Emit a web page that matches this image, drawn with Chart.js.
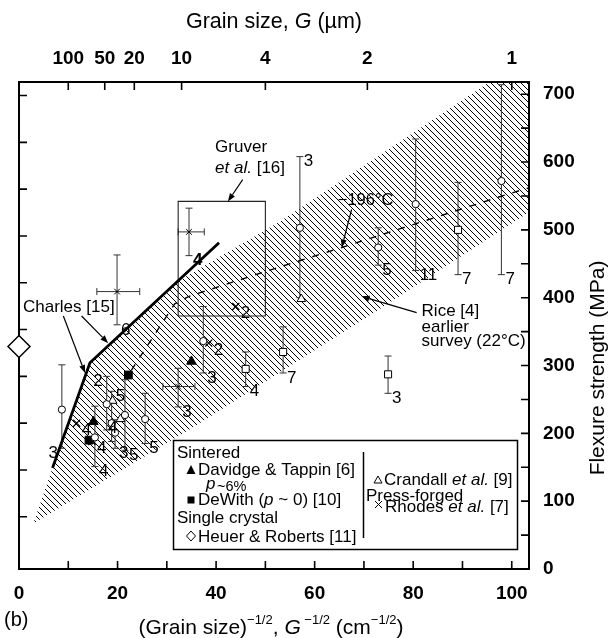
<!DOCTYPE html>
<html>
<head>
<meta charset="utf-8">
<title>Flexure strength vs grain size</title>
<script src="https://cdn.jsdelivr.net/npm/chart.js@4.4.1/dist/chart.umd.min.js"></script>
<style>
    body { margin: 0; background: #fff; }
    canvas { display: block; }
</style>
</head>
<body>
<canvas id="strengthChart" width="609" height="638"></canvas>
<script>
// Axis ranges and ticks
let xMax = 103.5;
let yMax = 718;
let bottomLabels = [0, 20, 40, 60, 80, 100];
let bottomMinor = [10, 30, 50, 70, 90];
let topTickPos = [10, 17.4, 23.4, 33, 50, 70.7, 100];
let topTickLabels = ['100', '50', '20', '10', '4', '2', '1'];
let rightLabels = [0, 100, 200, 300, 400, 500, 600, 700];
let rightMinor = [50, 150, 250, 350, 450, 550, 650];
let leftTicks = [77, 146, 215, 284, 353, 422, 491, 560, 629, 698];

// Rice [4] earlier survey (hatched band)
let bandUpperX = [2.9, 6.8, 14.4, 32, 52.9, 95.5, 103.5];
let bandUpperY = [67, 149, 304, 423, 512, 718, 757];
let bandLowerX = [2.9, 36, 72.5, 103.5];
let bandLowerY = [67, 212, 380, 526];

// Charles [15]
let charlesX = [6.8, 14.4, 40.6];
let charlesY = [149, 304, 481];

// -196 C trend
let coldX = [22.8, 31.6, 34.5, 48.9, 65.5, 98.9, 103.5];
let coldY = [293, 391, 402, 436, 474, 552, 562];

// Gruver et al. [16] range box
let gruverX = [32.3, 32.3, 50.0, 50.0, 32.3];
let gruverY = [373, 542, 542, 373, 373];

// Open circles with error bars
let circX  = [8.7, 15.4, 17.8, 18.8, 19.5, 21.5, 25.6, 37.4, 57.0, 72.9, 80.5, 97.9];
let circY  = [235, 194, 243, 215, 201, 227, 221, 336, 503, 474, 538, 572];
let circLo = [178, 151, 205, 188, 178, 175, 185, 289, 400, 448, 440, 434];
let circHi = [301, 240, 284, 262, 220, 279, 259, 387, 608, 503, 634, 714];
let circN  = ['3', '4', '2', '5', '3', '5', '5', '3', '3', '5', '11', '7'];

// Open squares with error bars
let sqX  = [46.0, 53.6, 74.9, 89.1];
let sqY  = [295, 320, 287, 500];
let sqLo = [269, 289, 259, 434];
let sqHi = [320, 357, 314, 570];
let sqN  = ['4', '7', '3', '7'];

// Crosses with x and y error bars
let crX   = [19.9, 32.3, 34.5];
let crY   = [409, 269, 497];
let crYLo = [360, 239, 462];
let crYHi = [463, 296, 532];
let crXLo = [15.8, 29.2, 32.3];
let crXHi = [24.5, 35.7, 37.6];
let crN   = ['6', '3', '4'];

// Legend series
let davidgeX = [15.1, 35.0];
let davidgeY = [217, 306];
let dewithX = [14.2, 22.2];
let dewithY = [190, 286];
let heuerX = [0];
let heuerY = [328];
let crandallX = [19.0, 57.3, 20.6];
let crandallY = [248, 398, 221];
let crandallN = ['', '', '4'];
let rhodesX = [11.7, 14.8, 44.0, 38.5];
let rhodesY = [215, 188, 387, 333];
let rhodesN = ['4', '4', '2', '2'];

// where each count label sits
let circNAt = ['lo-l', 'lo-r', 'hi-l', 'hi-r', 'lo-r', 'lo-r', 'lo-r', 'lo-r', 'hi-r', 'lo-r', 'lo-r', 'lo-r'];

const FAMILY = '"Liberation Sans", Arial, Helvetica, sans-serif';
function font(size, style) {
    return (style || '') + ' ' + size + 'px ' + FAMILY;
}

function pts(xs, ys) {
    return xs.map((x, i) => ({ x: x, y: ys[i] }));
}

// diagonal hatch pattern
function makeHatch(ctx) {
    let w = 6, h = 6;
    let c = document.createElement('canvas');
    c.width = w; c.height = h;
    let g = c.getContext('2d');
    g.strokeStyle = '#000';
    g.lineWidth = 1;
    g.beginPath();
    for (let k = -1; k <= 1; k++) {
        g.moveTo(k * w - w, -h);
        g.lineTo(k * w + 2 * w, 2 * h);
    }
    g.stroke();
    return ctx.createPattern(c, 'repeat');
}

// text with italic / superscript runs
function runFont(p, size) {
    let s = p.sup ? Math.round(size * 0.62) : size;
    return font(s, (p.i ? 'italic' : '') + (p.b ? ' bold' : ''));
}
function drawRich(ctx, parts, x, y, size, align) {
    let w = 0;
    parts.forEach(p => { ctx.font = runFont(p, size); w += ctx.measureText(p.t).width; });
    let cx = align === 'center' ? x - w / 2 : (align === 'right' ? x - w : x);
    ctx.textAlign = 'left';
    ctx.textBaseline = 'middle';
    parts.forEach(p => {
        ctx.font = runFont(p, size);
        ctx.fillText(p.t, cx, y + (p.sup ? -size * 0.38 : 0));
        cx += ctx.measureText(p.t).width;
    });
}

function arrow(ctx, x1, y1, x2, y2) {
    let a = Math.atan2(y2 - y1, x2 - x1);
    let len = 8, half = 3;
    ctx.beginPath();
    ctx.moveTo(x1, y1);
    ctx.lineTo(x2 - Math.cos(a) * len, y2 - Math.sin(a) * len);
    ctx.stroke();
    ctx.beginPath();
    ctx.moveTo(x2, y2);
    ctx.lineTo(x2 - Math.cos(a) * len - Math.sin(a) * half, y2 - Math.sin(a) * len + Math.cos(a) * half);
    ctx.lineTo(x2 - Math.cos(a) * len + Math.sin(a) * half, y2 - Math.sin(a) * len - Math.cos(a) * half);
    ctx.closePath();
    ctx.fill();
}

function drawErrorBars(chart) {
    let ctx = chart.ctx, xs = chart.scales.x, ys = chart.scales.y;
    ctx.save();
    ctx.strokeStyle = '#333';
    ctx.lineWidth = 1;
    let vbar = (x, lo, hi) => {
        let px = xs.getPixelForValue(x), p1 = ys.getPixelForValue(lo), p2 = ys.getPixelForValue(hi);
        ctx.beginPath();
        ctx.moveTo(px, p1); ctx.lineTo(px, p2);
        ctx.moveTo(px - 3.5, p1); ctx.lineTo(px + 3.5, p1);
        ctx.moveTo(px - 3.5, p2); ctx.lineTo(px + 3.5, p2);
        ctx.stroke();
    };
    let hbar = (y, lo, hi) => {
        let py = ys.getPixelForValue(y), p1 = xs.getPixelForValue(lo), p2 = xs.getPixelForValue(hi);
        ctx.beginPath();
        ctx.moveTo(p1, py); ctx.lineTo(p2, py);
        ctx.moveTo(p1, py - 3.5); ctx.lineTo(p1, py + 3.5);
        ctx.moveTo(p2, py - 3.5); ctx.lineTo(p2, py + 3.5);
        ctx.stroke();
    };
    circX.forEach((x, i) => vbar(x, circLo[i], circHi[i]));
    sqX.forEach((x, i) => vbar(x, sqLo[i], sqHi[i]));
    crX.forEach((x, i) => { vbar(x, crYLo[i], crYHi[i]); hbar(crY[i], crXLo[i], crXHi[i]); });
    ctx.restore();
}

function countLabel(ctx, text, px, py, pLo, pHi, at, bold) {
    if (!text) return;
    let x, y, align = 'left';
    if (at === 'lo-r') { x = px + 4; y = pLo + 5; }
    else if (at === 'lo-l') { x = px - 4; y = pLo + 5; align = 'right'; }
    else if (at === 'hi-r') { x = px + 4; y = pHi + 5; }
    else if (at === 'hi-l') { x = px - 4; y = pHi + 5; align = 'right'; }
    else if (at === 'pt-bl') { x = px - 3; y = py + 9; align = 'right'; }
    else { x = px + 5; y = py + 7; }
    ctx.font = font(17, bold ? 'bold' : '');
    ctx.textAlign = align;
    ctx.textBaseline = 'middle';
    ctx.fillText(text, x, y);
}

const figurePlugin = {
    id: 'figure',
    afterDatasetDraw(chart, args) {
        if (args.index === 0) drawErrorBars(chart);
    },
    afterDraw(chart) {
        let ctx = chart.ctx, a = chart.chartArea;
        let xs = chart.scales.x, ys = chart.scales.y;
        let X = v => xs.getPixelForValue(v), Y = v => ys.getPixelForValue(v);
        ctx.save();
        ctx.fillStyle = '#000';
        ctx.strokeStyle = '#000';

        // inward tick marks
        ctx.lineWidth = 1.6;
        ctx.beginPath();
        bottomLabels.concat(bottomMinor).forEach(v => { ctx.moveTo(X(v), a.bottom); ctx.lineTo(X(v), a.bottom - 8); });
        topTickPos.forEach(v => { ctx.moveTo(X(v), a.top); ctx.lineTo(X(v), a.top + 8); });
        rightLabels.concat(rightMinor).forEach(v => { ctx.moveTo(a.right, Y(v)); ctx.lineTo(a.right - 8, Y(v)); });
        leftTicks.forEach(v => { ctx.moveTo(a.left, Y(v)); ctx.lineTo(a.left + 8, Y(v)); });
        ctx.stroke();

        // axis titles
        drawRich(ctx, [{ t: 'Grain size, ' }, { t: 'G', i: true }, { t: ' (\u00b5m)' }], (a.left + a.right) / 2, 22, 21.5, 'center');
        drawRich(ctx, [{ t: '(Grain size)' }, { t: '\u22121/2', sup: true }, { t: ', ' }, { t: 'G', i: true },
            { t: ' \u22121/2', sup: true }, { t: ' (cm' }, { t: '\u22121/2', sup: true }, { t: ')' }], 271, 628, 21, 'center');
        drawRich(ctx, [{ t: '(b)' }], 4, 620, 20, 'left');
        ctx.save();
        ctx.translate(598, 368);
        ctx.rotate(-Math.PI / 2);
        drawRich(ctx, [{ t: 'Flexure strength (MPa)' }], 0, 0, 21, 'center');
        ctx.restore();

        // count labels
        circX.forEach((x, i) => countLabel(ctx, circN[i], X(x), Y(circY[i]), Y(circLo[i]), Y(circHi[i]), circNAt[i]));
        sqX.forEach((x, i) => countLabel(ctx, sqN[i], X(x), Y(sqY[i]), Y(sqLo[i]), Y(sqHi[i]), 'lo-r'));
        crX.forEach((x, i) => countLabel(ctx, crN[i], X(x), Y(crY[i]), Y(crYLo[i]), Y(crYHi[i]), 'lo-r', i === 2));
        rhodesX.forEach((x, i) => countLabel(ctx, rhodesN[i], X(x), Y(rhodesY[i]), 0, 0, 'pt-br'));
        crandallX.forEach((x, i) => countLabel(ctx, crandallN[i], X(x), Y(crandallY[i]), 0, 0, 'pt-bl'));

        // annotations
        ctx.lineWidth = 1.2;
        drawRich(ctx, [{ t: 'Gruver' }], X(39.8), Y(622), 17, 'left');
        drawRich(ctx, [{ t: 'et al.', i: true }, { t: ' [16]' }], X(39.8), Y(591), 17, 'left');
        arrow(ctx, X(45.4), Y(574), X(42.4), Y(542));
        drawRich(ctx, [{ t: 'Charles [15]' }], X(0.8), Y(386), 17, 'left');
        arrow(ctx, X(9.0), Y(373), X(13.4), Y(289));
        arrow(ctx, X(12.7), Y(373), X(18.1), Y(333));
        drawRich(ctx, [{ t: '\u2212196\u00b0C' }], X(64.7), Y(544), 16.5, 'left');
        arrow(ctx, X(67.5), Y(530), X(65.5), Y(474));
        drawRich(ctx, [{ t: 'Rice [4]' }], X(81.7), Y(380), 17, 'left');
        drawRich(ctx, [{ t: 'earlier' }], X(81.7), Y(356), 17, 'left');
        drawRich(ctx, [{ t: 'survey (22\u00b0C)' }], X(81.7), Y(336), 17, 'left');
        arrow(ctx, X(80.7), Y(378), X(69.5), Y(402));

        // legend box
        ctx.lineWidth = 1.5;
        ctx.strokeRect(173.5, 440.5, 344, 109);
        ctx.beginPath();
        ctx.moveTo(363.5, 452); ctx.lineTo(363.5, 538);
        ctx.stroke();
        drawRich(ctx, [{ t: 'Sintered' }], 177, 453, 17, 'left');
        ctx.beginPath();
        ctx.moveTo(191, 465); ctx.lineTo(195.5, 474); ctx.lineTo(186.5, 474); ctx.closePath(); ctx.fill();
        drawRich(ctx, [{ t: 'Davidge & Tappin [6]' }], 198, 470, 17, 'left');
        drawRich(ctx, [{ t: 'p', i: true }], 206, 484, 17, 'left');
        drawRich(ctx, [{ t: '~6%' }], 217, 487, 14.5, 'left');
        ctx.fillRect(187.5, 496.5, 7, 7);
        drawRich(ctx, [{ t: 'DeWith (' }, { t: 'p', i: true }, { t: ' ~ 0) [10]' }], 198, 500, 17, 'left');
        drawRich(ctx, [{ t: 'Single crystal' }], 177, 518, 17, 'left');
        ctx.lineWidth = 1;
        ctx.beginPath();
        ctx.moveTo(191, 531); ctx.lineTo(195.5, 536); ctx.lineTo(191, 541); ctx.lineTo(186.5, 536); ctx.closePath(); ctx.stroke();
        drawRich(ctx, [{ t: 'Heuer & Roberts [11]' }], 198, 537, 17, 'left');
        ctx.beginPath();
        ctx.moveTo(378, 476); ctx.lineTo(382, 483); ctx.lineTo(374, 483); ctx.closePath(); ctx.stroke();
        drawRich(ctx, [{ t: 'Crandall ' }, { t: 'et al.', i: true }, { t: ' [9]' }], 384, 480, 17, 'left');
        drawRich(ctx, [{ t: 'Press-forged' }], 366, 496, 17, 'left');
        ctx.beginPath();
        ctx.moveTo(375, 501); ctx.lineTo(382, 508); ctx.moveTo(382, 501); ctx.lineTo(375, 508);
        ctx.stroke();
        drawRich(ctx, [{ t: 'Rhodes ' }, { t: 'et al.', i: true }, { t: ' [7]' }], 385, 507, 17, 'left');

        ctx.restore();
    }
};

let canvas = document.getElementById('strengthChart');
let ctx = canvas.getContext('2d');
let hatch = makeHatch(ctx);

let axisFont = { family: FAMILY, size: 19, weight: 'bold' };

new Chart(ctx, {
    type: 'scatter',
    data: {
        datasets: [
            { label: 'Rice [4]', data: pts(bandUpperX, bandUpperY), showLine: true, fill: '+1', backgroundColor: hatch,
              borderColor: 'rgba(0,0,0,0)', borderWidth: 0, pointRadius: 0, order: 20 },
            { label: 'Rice lower', data: pts(bandLowerX, bandLowerY), showLine: true, fill: false,
              borderColor: 'rgba(0,0,0,0)', borderWidth: 0, pointRadius: 0, order: 19 },
            { label: 'Charles [15]', data: pts(charlesX, charlesY), showLine: true, borderColor: '#000', borderWidth: 2.8,
              pointRadius: 0, order: 10 },
            { label: '-196C', data: pts(coldX, coldY), showLine: true, borderColor: '#000', borderWidth: 1.4,
              borderDash: [7, 8], pointRadius: 0, order: 10 },
            { label: 'Gruver et al. [16]', data: pts(gruverX, gruverY), showLine: true, borderColor: '#222', borderWidth: 1.1,
              pointRadius: 0, order: 10 },
            { label: 'open circles', data: pts(circX, circY), pointStyle: 'circle', pointRadius: 3.6,
              backgroundColor: '#fff', borderColor: '#000', borderWidth: 1, order: 1 },
            { label: 'open squares', data: pts(sqX, sqY), pointStyle: 'rect', pointRadius: 5,
              backgroundColor: '#fff', borderColor: '#000', borderWidth: 1, order: 1 },
            { label: 'crosses', data: pts(crX, crY), pointStyle: 'crossRot', pointRadius: 4,
              borderColor: '#000', borderWidth: 1, order: 1 },
            { label: 'Davidge & Tappin [6]', data: pts(davidgeX, davidgeY), pointStyle: 'triangle', pointRadius: 5.5,
              backgroundColor: '#000', borderColor: '#000', borderWidth: 1, order: 1 },
            { label: 'DeWith [10]', data: pts(dewithX, dewithY), pointStyle: 'rect', pointRadius: 5.5,
              backgroundColor: '#000', borderColor: '#000', borderWidth: 1, order: 1 },
            { label: 'Crandall et al. [9]', data: pts(crandallX, crandallY), pointStyle: 'triangle', pointRadius: 5,
              backgroundColor: '#fff', borderColor: '#000', borderWidth: 1, order: 1 },
            { label: 'Rhodes et al. [7]', data: pts(rhodesX, rhodesY), pointStyle: 'crossRot', pointRadius: 5,
              borderColor: '#000', borderWidth: 1.2, order: 1 },
            { label: 'Heuer & Roberts [11]', data: pts(heuerX, heuerY), pointStyle: 'rectRot', pointRadius: 11,
              backgroundColor: '#fff', borderColor: '#000', borderWidth: 1.5, clip: false, order: 0 }
        ]
    },
    options: {
        responsive: false,
        animation: false,
        devicePixelRatio: 1,
        events: [],
        layout: { padding: 0 },
        plugins: { legend: { display: false }, tooltip: { enabled: false } },
        scales: {
            x: {
                type: 'linear', position: 'bottom', min: 0, max: xMax,
                afterBuildTicks: s => { s.ticks = bottomLabels.map(v => ({ value: v })); },
                afterFit: s => { s.height = 69; },
                grid: { display: false, drawTicks: false },
                border: { display: true, color: '#000', width: 2 },
                ticks: { font: axisFont, color: '#000', padding: 13, maxRotation: 0, autoSkip: false, callback: v => String(v) }
            },
            x2: {
                type: 'linear', position: 'top', min: 0, max: xMax,
                afterBuildTicks: s => { s.ticks = topTickPos.map(v => ({ value: v })); },
                afterFit: s => { s.height = 82; },
                grid: { display: false, drawTicks: false },
                border: { display: true, color: '#000', width: 2 },
                ticks: { font: axisFont, color: '#000', padding: 12, maxRotation: 0, autoSkip: false,
                         callback: (v, i) => topTickLabels[i] }
            },
            y: {
                type: 'linear', position: 'right', min: 0, max: yMax,
                afterBuildTicks: s => { s.ticks = rightLabels.map(v => ({ value: v })); },
                afterFit: s => { s.width = 80; },
                grid: { display: false, drawTicks: false },
                border: { display: true, color: '#000', width: 2 },
                ticks: { font: axisFont, color: '#000', padding: 14, autoSkip: false, callback: v => String(v) }
            },
            y2: {
                type: 'linear', position: 'left', min: 0, max: yMax,
                afterFit: s => { s.width = 19; },
                grid: { display: false, drawTicks: false },
                border: { display: true, color: '#000', width: 2 },
                ticks: { display: false }
            }
        }
    },
    plugins: [figurePlugin]
});
</script>
</body>
</html>
